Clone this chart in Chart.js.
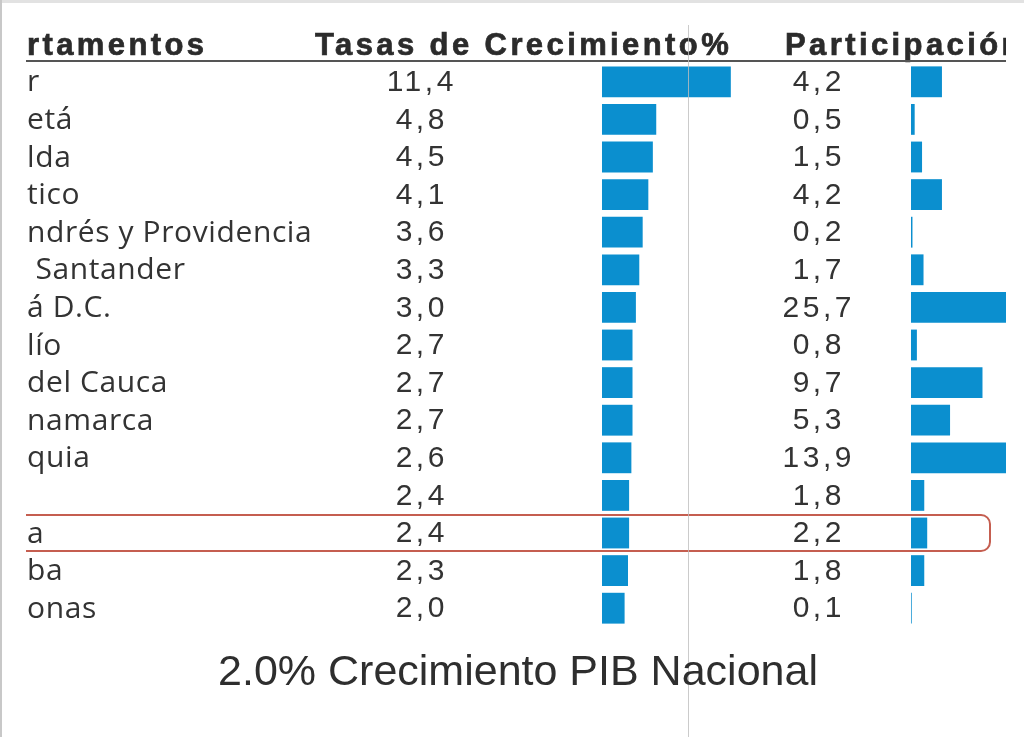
<!DOCTYPE html>
<html>
<head>
<meta charset="utf-8">
<script src="https://cdn.jsdelivr.net/npm/chart.js@4/dist/chart.umd.min.js"></script>
<style>
  html, body { margin: 0; padding: 0; background: #fff; }
  #wrap { width: 1024px; height: 737px; position: relative; }
</style>
</head>
<body>
<div id="wrap"><canvas id="c"></canvas></div>
<script>
// ---- data ----
const headerLabels = ["rtamentos", "Tasas de Crecimiento%", "Participación"];
const categories = ["r", "etá", "lda", "tico", "ndrés y Providencia", " Santander", "á D.C.", "lío",
  "del Cauca", "namarca", "quia", "", "a", "ba", "onas"];
const growth = [11.4, 4.8, 4.5, 4.1, 3.6, 3.3, 3.0, 2.7, 2.7, 2.7, 2.6, 2.4, 2.4, 2.3, 2.0];
const share = [4.2, 0.5, 1.5, 4.2, 0.2, 1.7, 25.7, 0.8, 9.7, 5.3, 13.9, 1.8, 2.2, 1.8, 0.1];
const highlightIndex = 12;
const footerText = "2.0% Crecimiento PIB Nacional";

const fmt = v => v.toFixed(1).replace('.', ',');
const BAR = '#0b8fcf';

const tablePlugin = {
  id: 'tablePlugin',
  beforeDraw(chart) {
    const ctx = chart.ctx;
    ctx.save();
    ctx.fillStyle = '#fff';
    ctx.fillRect(0, 0, chart.width, chart.height);
    ctx.restore();
  },
  afterDatasetsDraw(chart) {
    const ctx = chart.ctx;
    const ys = chart.scales.y;
    const xg = chart.scales.x;
    const xs = chart.scales.x2;
    ctx.save();
    ctx.beginPath();
    ctx.rect(26, 0, 980, chart.height);
    ctx.clip();

    // headers
    ctx.fillStyle = '#2b2b2b';
    ctx.strokeStyle = '#2b2b2b';
    ctx.lineWidth = 0.7;
    ctx.font = 'bold 31px "Liberation Sans", Arial, sans-serif';
    ctx.textBaseline = 'alphabetic';
    ctx.textAlign = 'left';
    ctx.letterSpacing = '3.4px';
    [[0, 27], [1, 315], [2, 785]].forEach(([k, x]) => {
      ctx.fillText(headerLabels[k], x, 55);
      ctx.strokeText(headerLabels[k], x, 55);
    });
    ctx.letterSpacing = '0px';

    // underline
    ctx.strokeStyle = '#555';
    ctx.lineWidth = 2;
    ctx.beginPath();
    ctx.moveTo(26, 61);
    ctx.lineTo(1006, 61);
    ctx.stroke();

    // rows
    const gx = xg.getPixelForValue(0) - 182;
    const sx = xs.getPixelForValue(0) - 94;
    categories.forEach((lab, i) => {
      const y = ys.getPixelForValue(i) + 1;
      ctx.fillStyle = '#333';
      ctx.textBaseline = 'middle';
      ctx.textAlign = 'left';
      ctx.letterSpacing = '0.6px';
      ctx.font = '30px "Open Sans", sans-serif';
      ctx.fillText(lab, 27, y);
      ctx.font = '30px "Liberation Sans", Arial, sans-serif';
      ctx.letterSpacing = '3.5px';
      ctx.textAlign = 'center';
      ctx.fillText(fmt(growth[i]), gx + 1.75, y);
      ctx.fillText(fmt(share[i]), sx + 1.75, y);
    });
    ctx.letterSpacing = '0px';

    // highlight box
    const hy = ys.getPixelForValue(highlightIndex);
    const half = 18;
    ctx.strokeStyle = '#c55e50';
    ctx.lineWidth = 2;
    ctx.beginPath();
    ctx.roundRect(10, hy - half, 980, half * 2, 9);
    ctx.stroke();
    ctx.restore();

    // frame artefacts of the screenshot
    ctx.save();
    ctx.fillStyle = '#e2e2e2';
    ctx.fillRect(0, 0, chart.width, 3);
    ctx.fillStyle = '#c8c8c8';
    ctx.fillRect(0, 0, 2, chart.height);
    ctx.strokeStyle = 'rgba(190,190,190,0.8)';
    ctx.lineWidth = 1;
    ctx.beginPath();
    ctx.moveTo(688.5, 25);
    ctx.lineTo(688.5, chart.height);
    ctx.stroke();

    // footer
    ctx.fillStyle = '#2e2e2e';
    ctx.font = '43px "Liberation Sans", Arial, sans-serif';
    ctx.textAlign = 'center';
    ctx.textBaseline = 'alphabetic';
    ctx.fillText(footerText, 518, 685);
    ctx.restore();
  }
};

new Chart(document.getElementById('c'), {
  type: 'bar',
  data: {
    labels: categories,
    datasets: [
      { label: 'Tasas de Crecimiento%', data: growth, xAxisID: 'x', backgroundColor: BAR,
        grouped: false, barPercentage: 0.82, categoryPercentage: 1 },
      { label: 'Participación', data: share, xAxisID: 'x2', backgroundColor: BAR,
        grouped: false, barPercentage: 0.82, categoryPercentage: 1 }
    ]
  },
  options: {
    indexAxis: 'y',
    responsive: true,
    maintainAspectRatio: false,
    animation: false,
    layout: { padding: { left: 0, right: 18, top: 63, bottom: 110 } },
    plugins: { legend: { display: false }, tooltip: { enabled: false }, title: { display: false } },
    scales: {
      y: { type: 'category', display: false, offset: true },
      x: { type: 'linear', display: false, min: -53.27, max: 35.75 },
      x2: { type: 'linear', display: false, min: -123.6, max: 12.89 }
    }
  },
  plugins: [tablePlugin]
});
</script>
</body>
</html>
